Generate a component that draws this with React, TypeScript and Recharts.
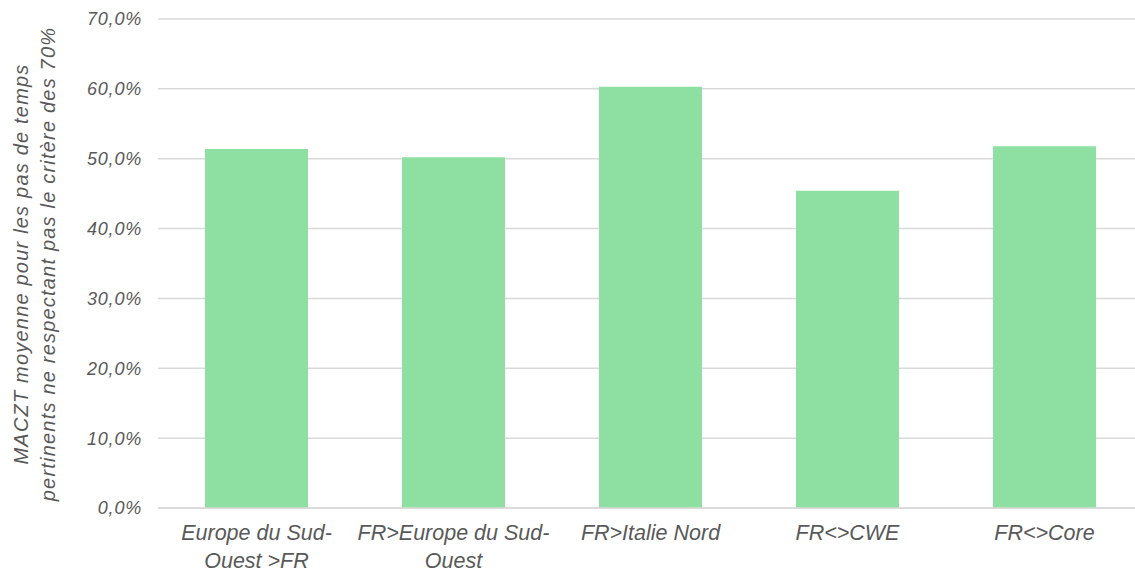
import React from "react";
import { BarChart, Bar, XAxis, YAxis, CartesianGrid } from "recharts";

const categories = [
  "Europe du Sud-Ouest >FR",
  "FR>Europe du Sud-Ouest",
  "FR>Italie Nord",
  "FR<>CWE",
  "FR<>Core",
];
const tickLines: string[][] = [
  ["Europe du Sud-", "Ouest >FR"],
  ["FR>Europe du Sud-", "Ouest"],
  ["FR>Italie Nord"],
  ["FR<>CWE"],
  ["FR<>Core"],
];
const values = [0.514, 0.502, 0.603, 0.454, 0.518];
const yTicks = [0, 0.1, 0.2, 0.3, 0.4, 0.5, 0.6, 0.7];
const yTitleLines = [
  "MACZT moyenne pour les pas de temps",
  "pertinents ne respectant pas le critère des 70%",
];

const data = categories.map((c, i) => ({ name: c, idx: i, value: values[i] }));

const FONT = "'Liberation Sans', Arial, sans-serif";
const TEXT = "#595959";

const fmt = (v: number) => (v * 100).toFixed(1).replace(".", ",") + "%";

const XTick = (props: any) => {
  const { x, y, payload } = props;
  const lines = tickLines[payload.index] || [payload.value];
  return (
    <g>
      {lines.map((l, i) => (
        <text
          key={i}
          x={x}
          y={y + 32 + i * 28}
          textAnchor="middle"
          fill={TEXT}
          fontSize={21.5}
          fontStyle="italic"
          fontFamily={FONT}
        >
          {l}
        </text>
      ))}
    </g>
  );
};

const YTitle = () => (
  <g>
    {yTitleLines.map((l, i) => (
      <text
        key={i}
        transform={`translate(${28 + i * 27}, 264) rotate(-90)`}
        textAnchor="middle"
        fill={TEXT}
        fontSize={20}
        letterSpacing={1.2}
        fontStyle="italic"
        fontFamily={FONT}
      >
        {l}
      </text>
    ))}
  </g>
);

export default function App() {
  return (
    <div
      style={{
        position: "absolute",
        left: 0,
        top: 0,
        width: 1135,
        height: 574,
        overflow: "hidden",
        background: "#fff",
      }}
    >
      <BarChart
        width={1150}
        height={574}
        data={data}
        margin={{ top: 19, right: 7, bottom: 0, left: 0 }}
      >
        <CartesianGrid vertical={false} stroke="#d9d9d9" strokeWidth={1.5} />
        <XAxis
          dataKey="name"
          height={66}
          tickLine={false}
          tickSize={0}
          tickMargin={0}
          axisLine={{ stroke: "#d9d9d9", strokeWidth: 1.5 }}
          tick={<XTick />}
          interval={0}
        />
        <YAxis
          width={158}
          domain={[0, 0.7]}
          ticks={yTicks}
          tickFormatter={fmt}
          axisLine={false}
          tickLine={false}
          tickMargin={10}
          tick={{ fill: TEXT, fontSize: 18, fontStyle: "italic", fontFamily: FONT, letterSpacing: 0.8 }}
          label={{ content: () => <YTitle /> }}
        />
        <Bar dataKey="value" fill="#8DE0A1" barSize={103} isAnimationActive={false} />
      </BarChart>
    </div>
  );
}
